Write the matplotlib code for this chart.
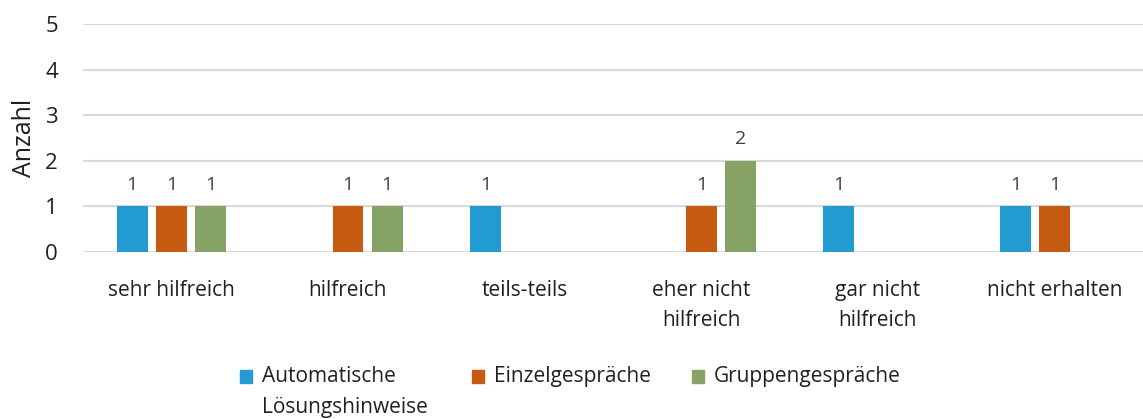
import numpy as np
import matplotlib
matplotlib.use('Agg')
import matplotlib.pyplot as plt
from matplotlib.patches import Rectangle

plt.rcParams['font.family'] = ['Open Sans', 'DejaVu Sans']

categories = ['sehr hilfreich', 'hilfreich', 'teils-teils', 'eher nicht\nhilfreich',
              'gar nicht\nhilfreich', 'nicht erhalten']
series = ['Automatische\nLösungshinweise', 'Einzelgespräche', 'Gruppengespräche']
automatisch = [1, 0, 1, 0, 1, 1]
einzel = [1, 1, 0, 1, 0, 1]
gruppe = [1, 1, 0, 2, 0, 0]
colors = ['#229BD3', '#C55A11', '#86A365']

W, H = 1143, 419
fig = plt.figure(figsize=(W / 100, H / 100), dpi=100)
ax = fig.add_axes([83 / W, 1 - 252 / H, 1 - 83 / W, 228 / H])

x = np.arange(len(categories))
w = 0.175
step = 0.222
for i, (vals, c) in enumerate(zip([automatisch, einzel, gruppe], colors)):
    pos = x + (i - 1) * step
    ax.bar(pos, vals, width=w, color=c, zorder=3)
    for p, v in zip(pos, vals):
        if v > 0:
            ax.text(p, v + 0.27, str(v), ha='center', va='bottom', fontsize=14, color='#404040')

ax.set_xlim(-0.5, len(categories) - 0.5)
ax.set_ylim(0, 5)
ax.set_yticks(range(6))
ax.yaxis.grid(True, color='#D9D9D9', linewidth=1.5, zorder=0)
for s in ax.spines.values():
    s.set_visible(False)
ax.tick_params(axis='both', length=0, colors='#202020')
ax.tick_params(axis='y', pad=18, labelsize=16)
ax.tick_params(axis='x', pad=20, labelsize=15)
ax.set_xticks(x)
ax.set_xticklabels(categories, linespacing=1.6, va='top')
ax.set_ylabel('Anzahl', fontsize=18, color='#202020', labelpad=6)

# legend drawn by hand so the swatch sits on the first text line
legend_x = [240, 472, 692]
for lx, c, label in zip(legend_x, colors, series):
    fig.patches.append(Rectangle((lx / W, 1 - 383 / H), 12 / W, 13 / H,
                                 transform=fig.transFigure, color=c))
    fig.text((lx + 22) / W, 1 - 366 / H, label, ha='left', va='top', fontsize=15,
             color='#202020', linespacing=1.6)

fig.savefig('out.png', dpi=100)
